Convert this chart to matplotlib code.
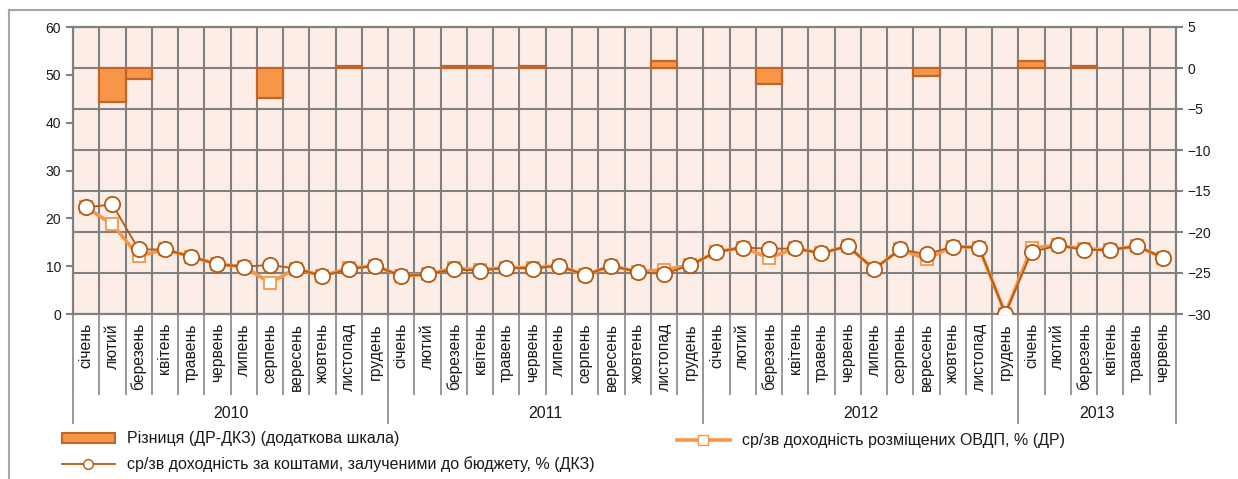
import matplotlib.pyplot as plt
import numpy as np
from matplotlib.lines import Line2D
from matplotlib.patches import Patch

plt.rcParams['font.family'] = ['Liberation Sans', 'DejaVu Sans']

months = ["січень", "лютий", "березень", "квітень", "травень", "червень",
          "липень", "серпень", "вересень", "жовтень", "листопад", "грудень"]
years = ["2010", "2011", "2012", "2013"]
months_per_year = [12, 12, 12, 6]

# ср/зв доходність за коштами, залученими до бюджету (ДКЗ)
dkz = [22.3, 22.9, 13.5, 13.5, 12.0, 10.4, 9.9, 10.25, 9.5, 7.95, 9.35, 10.1,
       7.95, 8.3, 9.35, 9.05, 9.7, 9.5, 10.1, 8.15, 10.1, 8.8, 8.35, 10.2,
       13.0, 13.9, 13.65, 13.7, 12.7, 14.2, 9.4, 13.5, 12.5, 14.1, 13.9, 0.1,
       12.9, 14.35, 13.4, 13.4, 14.2, 11.8]
# ср/зв доходність розміщених ОВДП (ДР)
dr = [22.3, 18.75, 12.1, 13.5, 12.0, 10.4, 9.9, 6.55, 9.5, 7.95, 9.6, 10.1,
      7.95, 8.3, 9.6, 9.3, 9.7, 9.7, 10.1, 8.15, 10.1, 8.8, 9.25, 10.2,
      13.0, 13.9, 11.75, 13.7, 12.7, 14.2, 9.4, 13.5, 11.5, 14.1, 13.9, 0.1,
      13.8, 14.35, 13.65, 13.4, 14.2, 11.8]
# Різниця (ДР-ДКЗ)
diff = [0, -4.2, -1.4, 0, 0, 0, 0, -3.7, 0, 0, 0.25, 0,
        0, 0, 0.25, 0.25, 0, 0.2, 0, 0, 0, 0, 0.9, 0,
        0, 0, -1.9, 0, 0, 0, 0, 0, -1.0, 0, 0, 0,
        0.85, 0, 0.25, 0, 0, 0]

labels = [m for n in months_per_year for m in months[:n]]
x = np.arange(len(labels))

W, H = 1238, 479
fig = plt.figure(figsize=(W / 100, H / 100), dpi=100)
L, R, T, B = 73, 1176, 27, 314
ax = fig.add_axes([L / W, 1 - B / H, (R - L) / W, (B - T) / H])
ax2 = ax.twinx()

grid_c = '#808080'
sep_c = '#999999'
txt_c = '#1A1A1A'
bar_c = '#F79646'
bar_e = '#C0662B'
dkz_c = '#B35A14'
ax.set_facecolor('#FCEDE7')

# bars on the secondary (right) scale, skip empty months
diff_arr = np.array(diff, dtype=float)
nz = diff_arr != 0
ax.bar(x[nz], diff_arr[nz], width=1.0, color=bar_c, edgecolor=bar_e, linewidth=1.6, zorder=3)
ax.set_ylim(-30, 5)
ax.set_yticks(np.arange(-30, 6, 5))
ax.yaxis.tick_right()
ax.set_xlim(-0.5, len(labels) - 0.5)
ax.set_xticks(x)
ax.set_xticklabels([])
ax.tick_params(axis='x', which='both', length=0)
ax.set_xticks(np.arange(-0.5, len(labels), 1.0), minor=True)
ax.grid(True, axis='y', color=grid_c, linewidth=1.5, zorder=0)
ax.grid(True, axis='x', which='minor', color=grid_c, linewidth=1.5, zorder=0)
ax.set_axisbelow(True)

# lines on the main (left) scale
ax2.plot(x, dr, color=bar_c, linewidth=2.6, marker='s', markersize=9,
         markerfacecolor='white', markeredgecolor=bar_c, markeredgewidth=1.3, zorder=4)
ax2.plot(x, dkz, color=dkz_c, linewidth=1.3, marker='o', markersize=11,
         markerfacecolor='white', markeredgecolor=dkz_c, markeredgewidth=1.3, zorder=5)
ax2.set_ylim(0, 60)
ax2.set_yticks(np.arange(0, 61, 10))
ax2.yaxis.tick_left()

for a in (ax, ax2):
    for s in a.spines.values():
        s.set_color(grid_c)
        s.set_linewidth(1.5)
    a.tick_params(axis='y', colors=grid_c, labelcolor=txt_c, labelsize=10,
                  length=5, width=1.5, direction='out')

# month labels and category separators
tr = ax.get_xaxis_transform()
px = 1.0 / (B - T)
for i, lab in enumerate(labels):
    ax.text(i, -9 * px, lab, rotation=90, ha='center', va='top', fontsize=11.3,
            color=txt_c, transform=tr, clip_on=False)
for b in np.arange(-0.5, len(labels), 1.0):
    ax.plot([b, b], [0, -(394 - B) * px], color=sep_c, linewidth=1.4,
            transform=tr, clip_on=False)
start = 0
for yr, n in zip(years, months_per_year):
    ax.plot([start - 0.5, start - 0.5], [0, -(423 - B) * px], color=sep_c,
            linewidth=1.4, transform=tr, clip_on=False)
    ax.text(start + (n - 1) / 2, -(413 - B) * px, yr, ha='center', va='center',
            fontsize=11.5, color=txt_c, transform=tr, clip_on=False)
    start += n
ax.plot([start - 0.5, start - 0.5], [0, -(423 - B) * px], color=sep_c,
        linewidth=1.4, transform=tr, clip_on=False)

# legend, one box per entry
h_bar = Patch(facecolor=bar_c, edgecolor=bar_e, linewidth=1.5)
h_dkz = Line2D([], [], color=dkz_c, linewidth=1.3, marker='o', markersize=7,
               markerfacecolor='white', markeredgecolor=dkz_c)
h_dr = Line2D([], [], color=bar_c, linewidth=2.6, marker='s', markersize=7,
              markerfacecolor='white', markeredgecolor=bar_c)
entries = [
    (h_bar, "Різниця (ДР-ДКЗ) (додаткова шкала)", 62, 439),
    (h_dkz, "ср/зв доходність за коштами, залученими до бюджету, % (ДКЗ)", 62, 464),
    (h_dr, "ср/зв доходність розміщених ОВДП, % (ДР)", 677, 441),
]
for h, lab, lx, ly in entries:
    leg = fig.legend([h], [lab], loc='center left', bbox_to_anchor=(lx / W, 1 - ly / H),
                     frameon=False, fontsize=11.5, handlelength=3.3, handleheight=0.6,
                     handletextpad=0.75, borderaxespad=0, borderpad=0)
    for t in leg.get_texts():
        t.set_color(txt_c)

# outer frame (top and left visible)
fig.add_artist(Line2D([9 / W, 1], [1 - 10 / H, 1 - 10 / H], color='#A6A6A6', linewidth=1.5))
fig.add_artist(Line2D([9 / W, 9 / W], [0, 1 - 10 / H], color='#A6A6A6', linewidth=1.5))

fig.savefig('out.png', dpi=100)
